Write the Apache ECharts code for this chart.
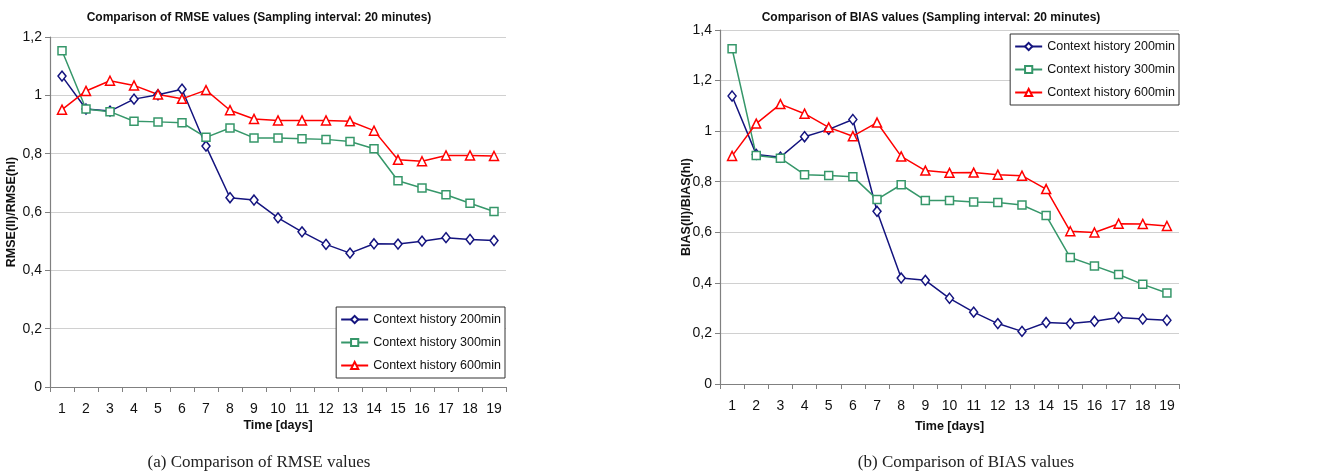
<!DOCTYPE html>
<html><head><meta charset="utf-8">
<script src="https://cdn.jsdelivr.net/npm/echarts@6/dist/echarts.min.js"></script>
<style>html,body{margin:0;padding:0;background:#fff}#c{width:1334px;height:471px}</style>
</head><body><div id="c"></div>
<script>
const days = ['1','2','3','4','5','6','7','8','9','10','11','12','13','14','15','16','17','18','19'];
const seriesNames = ['Context history 200min','Context history 300min','Context history 600min'];
const rmse200 = [1.066,0.953,0.946,0.987,1.002,1.021,0.826,0.649,0.641,0.580,0.532,0.489,0.459,0.491,0.490,0.500,0.512,0.506,0.502];
const rmse300 = [1.153,0.953,0.944,0.911,0.909,0.906,0.856,0.888,0.854,0.854,0.851,0.849,0.842,0.817,0.707,0.682,0.659,0.630,0.602];
const rmse600 = [0.951,1.015,1.050,1.034,1.003,0.988,1.018,0.949,0.919,0.914,0.914,0.914,0.911,0.879,0.779,0.774,0.794,0.794,0.792];
const bias200 = [1.139,0.908,0.897,0.978,1.007,1.046,0.683,0.419,0.410,0.339,0.284,0.239,0.208,0.243,0.239,0.248,0.263,0.257,0.252];
const bias300 = [1.326,0.904,0.893,0.828,0.825,0.820,0.730,0.788,0.726,0.726,0.720,0.718,0.708,0.666,0.500,0.467,0.433,0.394,0.360];
const bias600 = [0.902,1.030,1.107,1.069,1.015,0.980,1.034,0.900,0.844,0.835,0.836,0.828,0.824,0.771,0.604,0.599,0.634,0.633,0.625];

const colors = ['#14147f','#36976a','#ff0000'];
const symbols = ['diamond','rect','triangle'];
const symSizes = [[8,10],8,9];
const font = "'Liberation Sans',Arial,sans-serif";
const fmt = v => String(+v.toFixed(1)).replace('.', ',');

function mkSeries(data, i, idx) {
  return {
    type: 'line', name: seriesNames[i], data: data,
    xAxisIndex: idx, yAxisIndex: idx,
    symbol: symbols[i], symbolSize: symSizes[i], showAllSymbol: true,
    lineStyle: {color: colors[i], width: 1.5},
    itemStyle: {color: '#ffffff', borderColor: colors[i], borderWidth: 1.5},
    emphasis: {disabled: true}, animation: false
  };
}
function xAx(idx, gap){
  return {type:'category', gridIndex: idx, data: days, boundaryGap: true,
    axisLine:{lineStyle:{color:'#808080',width:1.2}},
    axisTick:{show:true, length:5, lineStyle:{color:'#808080'}},
    axisLabel:{color:'#111', fontFamily:font, fontSize:14, margin:15},
    name:'Time [days]', nameLocation:'middle', nameGap:gap, nameMoveOverlap:false,
    nameTextStyle:{color:'#111', fontFamily:font, fontSize:12.5, fontWeight:'bold'}};
}
function yAx(idx, max, name, gap){
  return {type:'value', gridIndex: idx, min:0, max:max, interval:0.2,
    axisLine:{show:true, lineStyle:{color:'#808080',width:1.2}},
    axisTick:{show:true, length:5, lineStyle:{color:'#808080'}},
    splitLine:{lineStyle:{color:'#d0d0d0'}},
    axisLabel:{color:'#111', fontFamily:font, fontSize:14, margin:8, formatter: fmt},
    name:name, nameLocation:'middle', nameGap:gap, nameRotate:90, nameMoveOverlap:false,
    nameTextStyle:{color:'#111', fontFamily:font, fontSize:12.5, fontWeight:'bold'}};
}
const titleStyle = {fontFamily:font, fontSize:12, fontWeight:'bold', color:'#111'};
const capStyle = {fontFamily:"'Liberation Serif','DejaVu Serif',serif", fontSize:17, fontWeight:'normal', color:'#222'};
const legendCommon = {data:seriesNames, orient:'vertical', itemWidth:27, itemHeight:9, itemGap:10,
  backgroundColor:'#fff', borderColor:'#333', borderWidth:1, padding:[6,4,6,4],
  textStyle:{fontFamily:font, fontSize:12.5, color:'#111'}, selectedMode:false};
const chart = echarts.init(document.getElementById('c'), null, {renderer:'canvas'});
chart.setOption({
  backgroundColor:'#ffffff',
  animation:false,
  title:[
    {text:'Comparison of RMSE values (Sampling interval: 20 minutes)', left:254, top:7, textAlign:'center', textStyle:titleStyle},
    {text:'Comparison of BIAS values (Sampling interval: 20 minutes)', left:926, top:7, textAlign:'center', textStyle:titleStyle},
    {text:'(a) Comparison of RMSE values', left:254, top:449, textAlign:'center', textStyle:capStyle},
    {text:'(b) Comparison of BIAS values', left:961, top:449, textAlign:'center', textStyle:capStyle}
  ],
  grid:[
    {left:50, right:828, top:37, bottom:84},
    {left:720, right:155, top:30, bottom:87}
  ],
  legend:[
    Object.assign({right:829, top:307}, legendCommon),
    Object.assign({right:155, top:34}, legendCommon)
  ],
  xAxis:[xAx(0,32), xAx(1,36)],
  yAxis:[yAx(0,1.2,'RMSE(II)/RMSE(hl)',32), yAx(1,1.4,'BIAS(II)/BIAS(hl)',27)],
  series:[
    mkSeries(rmse200,0,0), mkSeries(rmse300,1,0), mkSeries(rmse600,2,0),
    mkSeries(bias200,0,1), mkSeries(bias300,1,1), mkSeries(bias600,2,1)
  ]
});
</script></body></html>
